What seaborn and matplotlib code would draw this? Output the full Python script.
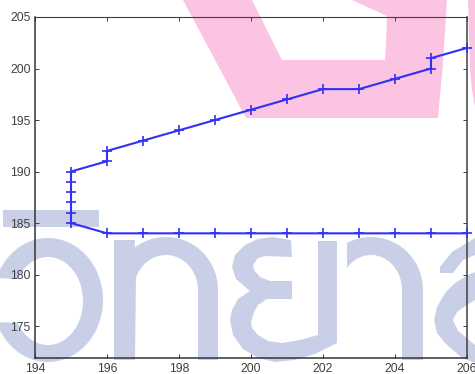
import numpy as np
import pandas as pd
import seaborn as sns
import matplotlib
matplotlib.use("Agg")
import matplotlib.pyplot as plt
from matplotlib.patches import Polygon, PathPatch
from matplotlib.path import Path

# Chart data
path_x = [206, 205, 204, 203, 202, 201, 200, 199, 198, 197, 196,
          195, 195, 195, 195, 195, 195,
          196, 196, 197, 198, 199, 200, 201, 202, 203, 204, 205, 205, 206]
path_y = [184, 184, 184, 184, 184, 184, 184, 184, 184, 184, 184,
          185, 186, 187, 188, 189, 190,
          191, 192, 193, 194, 195, 196, 197, 198, 198, 199, 200, 201, 202]
x_ticks = [194, 196, 198, 200, 202, 204, 206]
y_ticks = [175, 180, 185, 190, 195, 200, 205]

W, H = 475, 374
sns.set_theme(style="white")
plt.rcParams["font.family"] = ["Liberation Sans", "DejaVu Sans"]
fig = plt.figure(figsize=(W / 100, H / 100), dpi=100, facecolor="white")
ax = fig.add_axes([35 / W, 1 - 358 / H, 432 / W, 341 / H])
ax.patch.set_alpha(0)

PINK = "#fac4e2"
BLUE = "#c9cfe6"


def arc(cx, cy, rx, ry, a0, a1, n=40):
    t = np.radians(np.linspace(a0, a1, n))
    return np.column_stack([cx + rx * np.cos(t), cy + ry * np.sin(t)])


def to_fig(p):
    p = np.asarray(p, float)
    return np.column_stack([p[:, 0] / W, 1 - p[:, 1] / H])


def wm(points, color):
    fig.add_artist(Polygon(to_fig(points), closed=True, fc=color, ec="none",
                           transform=fig.transFigure, zorder=-1))


# Watermark: pink shape with a hole (hole wound the opposite way)
outer = to_fig([(183, 0), (246, 118), (438, 118), (440, 95), (442, 75), (443, 63), (447, 0)])
hole = to_fig([(352, 0), (387, 16), (386, 43), (385, 60), (282, 60), (252, 0)])
verts = np.vstack([outer, outer[:1], hole, hole[:1]])
codes = ([Path.MOVETO] + [Path.LINETO] * (len(outer) - 1) + [Path.CLOSEPOLY]
         + [Path.MOVETO] + [Path.LINETO] * (len(hole) - 1) + [Path.CLOSEPOLY])
fig.add_artist(PathPatch(Path(verts, codes), fc=PINK, ec="none",
                         transform=fig.transFigure, zorder=-1))
wm([(468, 0), (470, 68), (472, 90), (475, 107), (475, 0)], PINK)

# Watermark: blue letter forms
wm([(3, 210), (99, 210), (99, 227), (3, 227)], BLUE)
wm(np.vstack([arc(48, 300, 55, 62, 200.8, 519.2, 90),
              arc(48, 301, 35, 44, 510, 210, 90)]), BLUE)
wm(np.vstack([[(114, 240), (135, 240)], arc(166, 290, 52, 53, 233, 360),
              [(218, 360), (198, 360)], arc(166, 290, 32, 35, 360, 200),
              [(135, 360), (114, 360)]]), BLUE)
wm([(291, 240), (272, 237), (258, 239), (245, 245), (235, 255), (232, 267), (236, 279),
    (250, 291), (238, 299), (232, 310), (230, 320), (233, 335), (243, 349), (258, 358),
    (275, 362), (295, 360), (315, 354), (337, 343), (337, 241), (318, 241), (318, 335),
    (300, 340), (282, 343), (268, 341), (258, 335), (252, 328), (251, 322), (254, 312),
    (258, 305), (267, 299), (292, 299), (292, 281), (270, 281), (260, 277), (254, 270),
    (253, 265), (258, 258), (265, 256), (292, 257)], BLUE)
wm(np.vstack([arc(371, 290, 52, 53, 242.5, 360), [(423, 360), (402, 360)],
              arc(371, 290, 31, 35, 360, 219), [(347, 265)]]), BLUE)
wm([(440, 273), (453, 273), (463, 260), (475, 255), (475, 238), (452, 252), (440, 267)], BLUE)
wm([(475, 272), (468, 275), (455, 283), (445, 293), (437, 307), (434, 320), (437, 333),
    (445, 343), (462, 358), (475, 363), (475, 345), (467, 338), (458, 331), (453, 320),
    (457, 312), (467, 305), (475, 300)], BLUE)

# Data line
df = pd.DataFrame({"x": path_x, "y": path_y})
sns.lineplot(data=df, x="x", y="y", ax=ax, sort=False, estimator=None, errorbar=None,
             color="#3030f8", linewidth=1.5, marker="+", markersize=7.5,
             markeredgewidth=1.2, markeredgecolor="#3030f8", clip_on=False, zorder=5)

ax.set_xlim(194, 206)
ax.set_ylim(171.9, 205)
ax.set_xticks(x_ticks)
ax.set_yticks(y_ticks)
ax.set_xlabel("")
ax.set_ylabel("")
ax.tick_params(axis="both", which="major", direction="in", length=3, width=0.7,
               top=True, right=True, bottom=True, left=True, color="#404040",
               labelsize=8.7, labelcolor="#404040", pad=3)
ax.tick_params(axis="x", pad=3.4)
for name, sp in ax.spines.items():
    sp.set_visible(True)
    sp.set_color("#404040" if name in ("top", "right") else "#333333")
    sp.set_linewidth(0.8 if name == "top" else 1.1)

fig.savefig("out.png", dpi=100)
